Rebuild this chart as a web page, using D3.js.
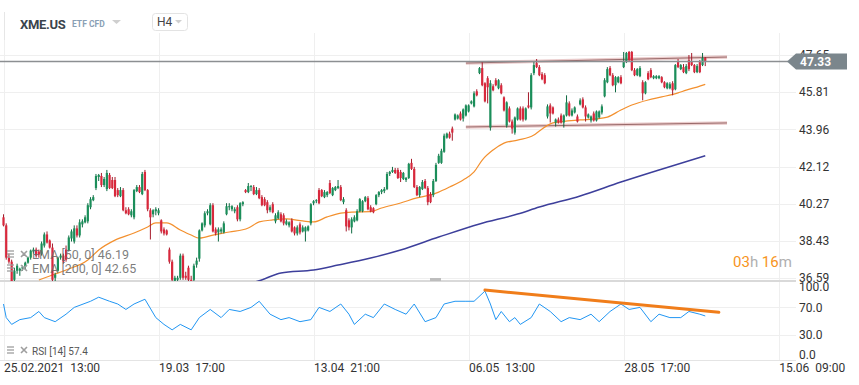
<!DOCTYPE html>
<html>
<head>
<meta charset="utf-8">
<script src="https://cdn.jsdelivr.net/npm/d3@7/dist/d3.min.js"></script>
<style>
body { margin: 0; background: #fff; }
svg text { font-family: Roboto, "Noto Sans", sans-serif; }
</style>
</head>
<body>
<div id="chart"></div>
<script>
// H4 candles XME.US [open, high, low, close]
var ohlc = [
[39.6,39.75,39.15,39.2],[39.2,39.3,37.5,37.6],[37.6,37.8,37.3,37.4],[37.4,37.5,36.2,36.4],[36.5,37.1,36.3,36.95],
[36.95,37.3,36.8,37.2],[36.95,37.1,36.7,37.05],[37.05,37.2,36.95,37.15],[37.15,37.4,37.0,37.35],[37.35,37.65,37.3,37.6],
[37.6,38.0,37.5,37.95],[37.9,38.1,37.8,38.0],[38.0,38.1,37.6,37.7],[37.9,38.0,37.6,37.75],[37.8,38.4,37.7,38.3],
[38.2,38.85,38.1,38.75],[38.75,38.9,38.3,38.35],[38.45,38.5,38.05,38.1],[38.1,38.3,36.3,36.5],[36.6,36.85,36.4,36.75],
[36.95,37.65,36.9,37.6],[37.6,37.8,37.5,37.7],[37.7,37.8,37.3,37.4],[38.0,38.2,37.4,37.5],[37.98,38.7,37.9,38.6],
[38.55,39.0,38.4,38.9],[38.4,39.2,38.3,39.05],[39.05,39.2,38.6,38.7],[38.7,39.5,38.6,39.35],[39.25,39.5,39.1,39.4],
[39.35,39.7,39.3,39.6],[39.4,40.3,39.3,40.2],[40.1,40.6,40.0,40.5],[40.45,40.7,40.4,40.6],[41.05,41.75,40.95,41.65],
[41.6,41.75,41.4,41.7],[41.65,41.8,41.1,41.2],[41.2,41.6,41.1,41.5],[41.0,41.95,40.9,41.8],[41.7,41.8,41.0,41.05],
[41.45,41.6,41.0,41.05],[41.45,41.6,40.6,40.65],[40.95,41.05,40.6,40.7],[40.65,41.1,40.6,40.95],[40.95,41.05,39.9,39.95],
[39.95,40.1,39.75,39.8],[40.0,40.1,39.7,39.75],[39.7,40.0,39.6,39.9],[39.6,41.0,39.5,40.95],[40.9,41.2,40.85,41.1],
[41.1,41.2,40.8,40.85],[40.75,41.85,40.7,41.75],[41.85,41.95,40.9,40.95],[40.95,41.0,39.9,40.0],[39.95,40.05,38.5,39.6],
[39.75,40.0,39.6,39.95],[39.9,40.1,39.7,40.0],[39.8,40.05,39.7,39.95],[39.45,39.5,38.8,38.9],[39.0,39.1,38.7,38.8],
[38.95,39.0,38.7,38.75],[38.0,38.1,37.3,37.4],[37.4,37.5,36.4,36.5],[36.45,36.7,36.3,36.6],[36.5,36.7,36.35,36.6],
[36.6,37.8,36.5,37.7],[37.7,37.8,36.5,36.6],[36.7,36.9,36.5,36.6],[37.1,37.2,36.4,36.5],[36.5,36.7,36.3,36.45],
[36.5,37.3,36.4,37.2],[37.25,37.6,37.1,37.45],[37.55,39.0,37.4,38.95],[38.95,39.35,38.9,39.3],[39.2,39.9,39.1,39.8],
[39.8,40.0,39.7,39.9],[39.25,40.3,39.2,40.2],[40.2,40.3,38.85,38.9],[39.0,39.1,38.7,38.8],[38.85,39.1,38.4,39.0],
[38.9,39.1,38.8,39.0],[38.85,39.4,38.8,39.3],[39.75,40.3,39.7,40.15],[40.1,40.3,39.95,40.15],[40.0,40.2,39.9,40.15],
[39.9,40.1,39.8,40.0],[40.1,40.2,39.4,39.5],[39.5,40.35,39.4,40.3],[40.25,40.4,40.15,40.35],[40.95,41.0,40.8,40.85],
[40.85,41.3,40.8,41.15],[41.1,41.2,40.9,41.15],[41.1,41.2,40.7,40.75],[40.75,41.1,40.7,40.95],[40.95,41.05,40.5,40.55],
[40.6,40.7,40.15,40.2],[40.5,40.6,40.15,40.2],[40.35,40.45,39.8,39.95],[39.95,40.2,39.85,40.1],[40.25,40.35,39.8,39.85],
[39.4,39.8,39.3,39.7],[39.55,39.95,39.5,39.85],[39.75,39.85,39.35,39.4],[39.7,39.8,39.2,39.3],[39.25,39.5,39.2,39.4],
[39.2,39.4,39.1,39.35],[39.45,39.55,38.85,38.9],[39.1,39.15,38.7,38.8],[38.8,39.2,38.7,39.1],[39.25,39.35,38.75,38.85],
[38.9,39.2,38.85,39.1],[38.9,39.15,38.4,39.1],[38.95,39.2,38.9,39.15],[39.3,40.3,39.2,40.25],[40.3,40.45,40.2,40.4],
[40.4,40.5,40.3,40.45],[40.95,41.05,40.25,40.3],[40.95,41.0,40.6,40.65],[40.6,40.95,40.55,40.85],[40.7,40.9,40.6,40.85],
[41.3,41.45,40.75,40.8],[40.7,41.1,40.65,41.05],[40.95,41.15,40.9,41.1],[41.05,41.45,41.0,41.15],[41.1,41.2,40.4,40.45],
[40.35,40.6,40.25,40.5],[39.95,40.05,38.9,39.15],[39.45,39.55,38.95,39.1],[39.1,39.6,38.8,39.5],[39.4,39.7,39.35,39.6],
[39.45,40.0,39.4,39.9],[39.9,40.55,39.85,40.5],[39.9,40.45,39.85,40.4],[40.4,40.65,40.35,40.6],[40.55,40.65,39.95,40.0],
[40.1,40.2,39.85,39.9],[40.05,40.1,39.8,39.85],[40.25,40.75,40.2,40.7],[40.7,40.9,40.6,40.85],[40.85,41.0,40.75,40.95],
[40.9,41.1,40.8,41.0],[41.0,41.85,40.95,41.75],[41.75,41.9,41.65,41.85],[41.85,42.1,41.8,41.95],[41.95,42.05,41.75,41.8],
[41.95,42.05,41.5,41.55],[41.85,41.95,41.35,41.55],[41.5,41.85,41.45,41.8],[41.45,41.6,41.35,41.55],[41.55,42.3,41.5,42.25],
[42.3,42.5,41.95,42.0],[42.0,42.1,41.05,41.1],[41.1,41.2,40.65,40.7],[40.7,41.15,40.6,41.1],[41.0,41.45,40.95,41.35],
[41.4,41.5,41.0,41.05],[41.05,41.15,40.2,40.35],[40.75,40.85,40.3,40.35],[40.7,41.5,40.6,41.4],[41.4,42.3,41.35,42.2],
[42.3,42.75,42.25,42.65],[42.3,43.0,42.25,42.9],[42.85,43.75,42.8,43.65],[43.55,43.8,43.5,43.75],[43.75,43.85,43.5,43.55],
[44.0,44.1,43.4,43.8],[44.45,44.75,44.4,44.7],[44.5,44.7,44.45,44.65],[44.75,44.85,44.4,44.45],[44.5,45.0,44.35,44.95],
[44.65,45.2,44.6,45.15],[44.85,45.2,44.8,45.15],[45.25,45.4,45.2,45.35],[45.1,45.85,45.05,45.75],[45.85,45.95,45.6,45.65],
[46.75,47.05,46.7,47.0],[47.0,47.3,46.1,46.15],[46.25,46.3,45.3,45.35],[46.5,46.6,45.25,46.05],[44.05,46.4,43.9,46.25],
[46.1,46.2,45.85,45.9],[46.4,46.5,46.1,46.15],[46.0,46.45,45.95,46.4],[46.15,46.25,45.7,45.75],[45.55,45.6,44.85,44.9],
[44.15,45.35,44.05,45.3],[45.0,45.1,44.3,44.35],[44.35,44.45,43.75,44.0],[43.8,44.6,43.7,44.55],[44.45,45.05,44.4,45.0],
[45.0,45.1,44.4,44.45],[45.0,45.1,44.35,44.45],[44.45,45.05,44.4,45.0],[45.15,45.8,45.0,45.05],[45.05,46.75,44.95,46.65],
[46.75,47.3,46.65,47.15],[47.25,47.45,47.0,47.05],[47.05,47.15,46.6,46.65],[46.7,46.8,46.4,46.45],[46.65,46.75,46.2,46.25],
[44.6,45.2,44.5,45.1],[45.15,45.25,44.3,44.75],[45.05,45.1,44.7,44.75],[44.3,44.5,44.1,44.45],[44.45,44.55,44.25,44.3],
[44.65,44.75,44.25,44.3],[44.3,44.7,44.05,44.65],[44.65,45.65,44.6,45.3],[45.25,45.35,44.6,44.65],[44.65,45.0,44.6,44.9],
[44.8,45.1,44.75,45.05],[44.6,44.7,44.3,44.35],[45.2,45.5,45.15,45.4],[45.45,45.55,45.0,45.05],[45.05,45.15,44.35,44.6],
[44.55,44.75,44.5,44.7],[44.4,44.65,44.3,44.6],[44.75,44.85,44.35,44.4],[44.4,44.9,44.35,44.85],[44.55,44.9,44.5,44.85],
[44.8,45.2,44.7,45.1],[45.6,46.5,45.55,46.4],[46.3,47.05,46.25,46.95],[47.0,47.1,46.6,46.65],[46.65,46.75,46.1,46.15],
[46.15,46.6,45.8,46.55],[46.3,46.6,46.25,46.55],[46.55,46.65,46.2,46.25],[47.05,47.8,47.0,47.3],[47.3,47.8,47.25,47.75],
[47.8,47.85,47.35,47.4],[47.8,47.85,46.85,46.9],[46.9,47.0,46.6,46.65],[46.65,47.0,46.6,46.95],[46.6,47.1,46.55,47.0],
[46.3,46.4,45.4,45.75],[45.75,46.35,45.7,46.3],[46.75,46.85,46.4,46.45],[46.9,47.0,46.5,46.55],[46.5,46.65,46.45,46.6],
[46.5,46.65,46.45,46.6],[46.5,46.65,46.45,46.6],[46.55,46.6,46.25,46.3],[46.3,46.35,46.0,46.05],[46.0,46.3,45.95,46.25],
[46.0,46.3,45.95,46.2],[46.25,46.35,45.65,45.9],[45.95,47.2,45.9,47.15],[47.3,47.45,47.0,47.05],[46.95,47.2,46.9,47.15],
[47.05,47.2,46.75,46.8],[46.75,47.2,46.7,47.1],[47.4,47.65,46.85,46.95],[47.3,47.75,47.1,47.15],[47.15,47.2,46.75,46.8],
[46.8,47.2,46.75,47.1],[47.3,47.4,46.75,46.8],[47.15,47.75,47.1,47.5],[47.5,47.55,47.1,47.33]
];

// indicator readings [candle index, value]
var ema50 = [[13,36.49],[18,36.74],[23,36.99],[31,37.48],[35,37.98],[41,38.47],[48,38.82],[53,39.12],[56,39.32],[60,39.32],
  [65,38.97],[69,38.72],[72,38.57],[77,38.72],[83,38.87],[90,39.07],[94,39.37],[99,39.47],[104,39.52],[110,39.42],
  [114,39.37],[119,39.62],[124,39.81],[128,39.86],[135,39.88],[139,40.06],[146,40.31],[152,40.56],[157,40.71],[160,40.85],
  [164,41.1],[169,41.45],[173,41.85],[176,42.44],[180,42.94],[184,43.28],[189,43.43],[195,43.68],[197,43.88],[202,44.28],
  [212,44.43],[218,44.48],[222,44.57],[227,44.92],[231,45.17],[237,45.42],[242,45.57],[248,45.77],[251,45.91],[255,46.06],[258,46.19]];
var ema200 = [[80,36.1],[94,36.45],[102,36.84],[114,36.99],[123,37.23],[135,37.58],[146,37.98],[160,38.62],[175,39.27],
  [189,39.76],[197,40.11],[212,40.66],[227,41.35],[241,41.95],[258,42.65]];
var rsi = [[0,75],[1,55],[3,45],[6,52],[10,55],[13,64],[15,55],[19,49],[23,60],[26,70],[32,79],[35,85],[39,79],[42,75],
  [45,67],[48,75],[52,82],[56,55],[59,45],[62,37],[65,45],[69,37],[72,55],[76,67],[80,55],[83,67],[87,64],[91,70],[94,79],
  [98,60],[102,52],[105,55],[109,49],[113,52],[116,70],[120,64],[124,75],[127,60],[129,45],[133,60],[136,55],[140,75],
  [144,67],[148,60],[151,75],[155,49],[159,55],[162,75],[166,79],[170,79],[173,79],[177,94],[179,75],[181,52],[183,64],
  [186,49],[188,55],[190,45],[194,55],[197,75],[201,64],[205,49],[208,55],[212,52],[216,60],[219,49],[223,64],[227,75],
  [230,67],[234,70],[238,49],[241,60],[245,55],[249,55],[252,64],[256,60],[258,57.4]];

// drawn trend lines
var channelTop = [[170,47.25],[266,47.55]];
var channelBottom = [[170,44.08],[266,44.28]];
var rsiTrend = [[177,95.5],[263,62.7]];

var priceTicks = [47.65, 45.81, 43.96, 42.12, 40.27, 38.43, 36.59];
var rsiTicks = [100, 70, 30, 0];
var timeTicks = [0, 57, 114, 171, 228, 285];
var timeLabels = ["25.02.2021  13:00", "19.03  17:00", "13.04  21:00", "06.05  13:00", "28.05  17:00", "15.06  09:00"];
var lastPrice = 47.33;

var width = 859, height = 385, plotRight = 790;
var green = '#1b8e5a', greenDark = '#0f6a42', red = '#d8283c', redDark = '#a51a2a';

var svg = d3.select('#chart').append('svg').attr('width', width).attr('height', height)
  .style('display', 'block').style('background', '#fff');

var x = d3.scaleLinear().domain([0, 285]).range([3.5, 3.5 + 285 * 2.72]);
var y = d3.scaleLinear().domain([36.59, 47.65]).range([278, 55]);
var yr = d3.scaleLinear().domain([0, 100]).range([355, 287]);

var defs = svg.append('defs');
defs.append('clipPath').attr('id', 'mainClip').append('rect').attr('x', 0).attr('y', 34).attr('width', plotRight).attr('height', 247);
defs.append('clipPath').attr('id', 'rsiClip').append('rect').attr('x', 0).attr('y', 283).attr('width', plotRight).attr('height', 77);

// grid
var grid = svg.append('g').attr('stroke', '#efefef').attr('stroke-width', 1);
grid.selectAll('.hg').data(priceTicks).enter().append('line')
  .attr('x1', 0).attr('x2', 796).attr('y1', function(d) { return Math.round(y(d)) + 0.5; }).attr('y2', function(d) { return Math.round(y(d)) + 0.5; });
grid.selectAll('.rg').data([70, 30]).enter().append('line')
  .attr('x1', 0).attr('x2', 796).attr('y1', function(d) { return Math.round(yr(d)) + 0.5; }).attr('y2', function(d) { return Math.round(yr(d)) + 0.5; });
grid.selectAll('.vg').data(timeTicks).enter().append('line')
  .attr('y1', 33).attr('y2', 360).attr('x1', function(d) { return Math.round(x(d)) + 0.5; }).attr('x2', function(d) { return Math.round(x(d)) + 0.5; });

// pane separators
svg.append('line').attr('x1', 0).attr('x2', 796).attr('y1', 281).attr('y2', 281).attr('stroke', '#d9d9d9').attr('stroke-width', 2);
svg.append('line').attr('x1', 0).attr('x2', 796).attr('y1', 360.5).attr('y2', 360.5).attr('stroke', '#e4e4e4');
svg.append('rect').attr('x', 430).attr('y', 278).attr('width', 11).attr('height', 3).attr('fill', '#bdbdbd');

// main pane
var main = svg.append('g').attr('clip-path', 'url(#mainClip)');

var lineGen = d3.line().x(function(d) { return x(d[0]); }).y(function(d) { return y(d[1]); });

// channel lines
[channelTop, channelBottom].forEach(function(c) {
  main.append('path').datum(c).attr('d', lineGen).attr('fill', 'none').attr('stroke', '#d9a0a0').attr('stroke-width', 3.5).attr('opacity', 0.55);
  main.append('path').datum(c).attr('d', lineGen).attr('fill', 'none').attr('stroke', '#9a6a6a').attr('stroke-width', 1);
});

main.append('path').datum(ema200).attr('d', lineGen.curve(d3.curveMonotoneX)).attr('fill', 'none').attr('stroke', '#3d3f9b').attr('stroke-width', 1.5);
main.append('path').datum(ema50).attr('d', lineGen.curve(d3.curveMonotoneX)).attr('fill', 'none').attr('stroke', '#f3902e').attr('stroke-width', 1.2);

var candle = main.selectAll('.candle').data(ohlc).enter().append('g');
candle.append('line')
  .attr('x1', function(d, i) { return x(i); }).attr('x2', function(d, i) { return x(i); })
  .attr('y1', function(d) { return y(d[1]); }).attr('y2', function(d) { return y(d[2]); })
  .attr('stroke', function(d) { return d[3] >= d[0] ? greenDark : redDark; }).attr('stroke-width', 1);
candle.append('rect')
  .attr('x', function(d, i) { return x(i) - 1.1; }).attr('width', 2.2)
  .attr('y', function(d) { return y(Math.max(d[0], d[3])); })
  .attr('height', function(d) { return Math.max(1, Math.abs(y(d[0]) - y(d[3]))); })
  .attr('fill', function(d) { return d[3] >= d[0] ? green : red; });

// last price line + tag
svg.append('line').attr('x1', 0).attr('x2', 788).attr('y1', y(lastPrice)).attr('y2', y(lastPrice)).attr('stroke', '#8c8f92').attr('stroke-width', 1.5);

// price axis
var yAxis = svg.append('g').attr('transform', 'translate(799,0)')
  .call(d3.axisRight(y).tickValues(priceTicks).tickSize(0).tickPadding(0).tickFormat(d3.format('.2f')));
yAxis.select('.domain').remove();
yAxis.selectAll('text').attr('fill', '#333').style('font-size', '12px').attr('text-anchor', 'start');

var rAxis = svg.append('g').attr('transform', 'translate(799,0)')
  .call(d3.axisRight(yr).tickValues(rsiTicks).tickSize(0).tickPadding(0).tickFormat(d3.format('.1f')));
rAxis.select('.domain').remove();
rAxis.selectAll('text').attr('fill', '#333').style('font-size', '12px').attr('text-anchor', 'start');

var ty = y(lastPrice);
svg.append('path')
  .attr('d', 'M787,' + ty + 'L796,' + (ty - 8) + 'H847V' + (ty + 8) + 'H796Z')
  .attr('fill', '#7b868c');
svg.append('text').attr('x', 800).attr('y', ty).attr('dy', '0.35em').attr('fill', '#fff')
  .style('font-size', '12px').style('font-weight', 'bold').text(lastPrice.toFixed(2));

// rsi pane
var rsiPane = svg.append('g').attr('clip-path', 'url(#rsiClip)');
var rsiLine = d3.line().x(function(d) { return x(d[0]); }).y(function(d) { return yr(d[1]); });
rsiPane.append('path').datum(rsi).attr('d', rsiLine).attr('fill', 'none').attr('stroke', '#2196f3').attr('stroke-width', 1);
rsiPane.append('path').datum(rsiTrend).attr('d', rsiLine).attr('fill', 'none').attr('stroke', '#f07d1a').attr('stroke-width', 3).attr('stroke-linecap', 'round');

// time axis
var xAxis = svg.append('g').attr('transform', 'translate(0,361)')
  .call(d3.axisBottom(x).tickValues(timeTicks).tickSize(0).tickPadding(0).tickFormat(function(d, i) { return timeLabels[i]; }));
xAxis.select('.domain').remove();
xAxis.selectAll('text').attr('fill', '#333').style('font-size', '12px').attr('text-anchor', 'start')
  .attr('y', 2).attr('xml:space', 'preserve').style('white-space', 'pre');

// legends
function icons(g, yy) {
  g.append('g').attr('stroke', '#9e9e9e').attr('stroke-width', 1.3).selectAll('line').data([0, 3, 6]).enter().append('line')
    .attr('x1', 7).attr('x2', 14).attr('y1', function(d) { return yy - 4 + d; }).attr('y2', function(d) { return yy - 4 + d; });
  g.append('path').attr('d', 'M21,' + (yy - 4) + 'l6,6m0,-6l-6,6').attr('stroke', '#9e9e9e').attr('stroke-width', 1.6);
}
var leg = svg.append('g');
icons(leg, 255);
icons(leg, 269);
leg.append('text').attr('x', 32).attr('y', 255).attr('dy', '0.35em').attr('fill', '#666').attr('fill-opacity', 0.85)
  .style('font-size', '12.5px').text('EMA [50, 0] 46.19');
leg.append('text').attr('x', 32).attr('y', 269).attr('dy', '0.35em').attr('fill', '#666').attr('fill-opacity', 0.85)
  .style('font-size', '12.5px').text('EMA [200, 0] 42.65');
icons(leg, 351);
leg.append('text').attr('x', 32).attr('y', 351).attr('dy', '0.35em').attr('fill', '#555')
  .style('font-size', '10px').text('RSI [14] 57.4');

// countdown
var cd = svg.append('text').attr('x', 733).attr('y', 262).attr('dy', '0.35em').style('font-size', '15px');
cd.append('tspan').attr('fill', '#f7941d').text('03');
cd.append('tspan').attr('fill', '#b0b0b0').text('h ');
cd.append('tspan').attr('fill', '#f7941d').text('16');
cd.append('tspan').attr('fill', '#b0b0b0').text('m');

// header
svg.append('line').attr('x1', 4.5).attr('x2', 4.5).attr('y1', 12).attr('y2', 40).attr('stroke', '#e6e6e6');
svg.append('text').attr('x', 20).attr('y', 24).attr('dy', '0.35em').attr('fill', '#3a444d')
  .style('font-size', '13px').style('font-weight', 'bold').style('letter-spacing', '-0.3px').text('XME.US');
svg.append('text').attr('x', 72).attr('y', 24).attr('dy', '0.35em').attr('fill', '#8aa0b5')
  .style('font-size', '8.5px').style('font-weight', 'bold').text('ETF CFD');
svg.append('path').attr('d', 'M112,20h9l-4.5,4z').attr('fill', '#cfcfcf');
svg.append('rect').attr('x', 152.5).attr('y', 13.5).attr('width', 35).attr('height', 17).attr('rx', 3)
  .attr('fill', '#fff').attr('stroke', '#e3e3e3');
svg.append('text').attr('x', 157).attr('y', 22).attr('dy', '0.35em').attr('fill', '#444').style('font-size', '12px').text('H4');
svg.append('path').attr('d', 'M175,20h7l-3.5,3.5z').attr('fill', '#cfcfcf');
</script>
</body>
</html>
